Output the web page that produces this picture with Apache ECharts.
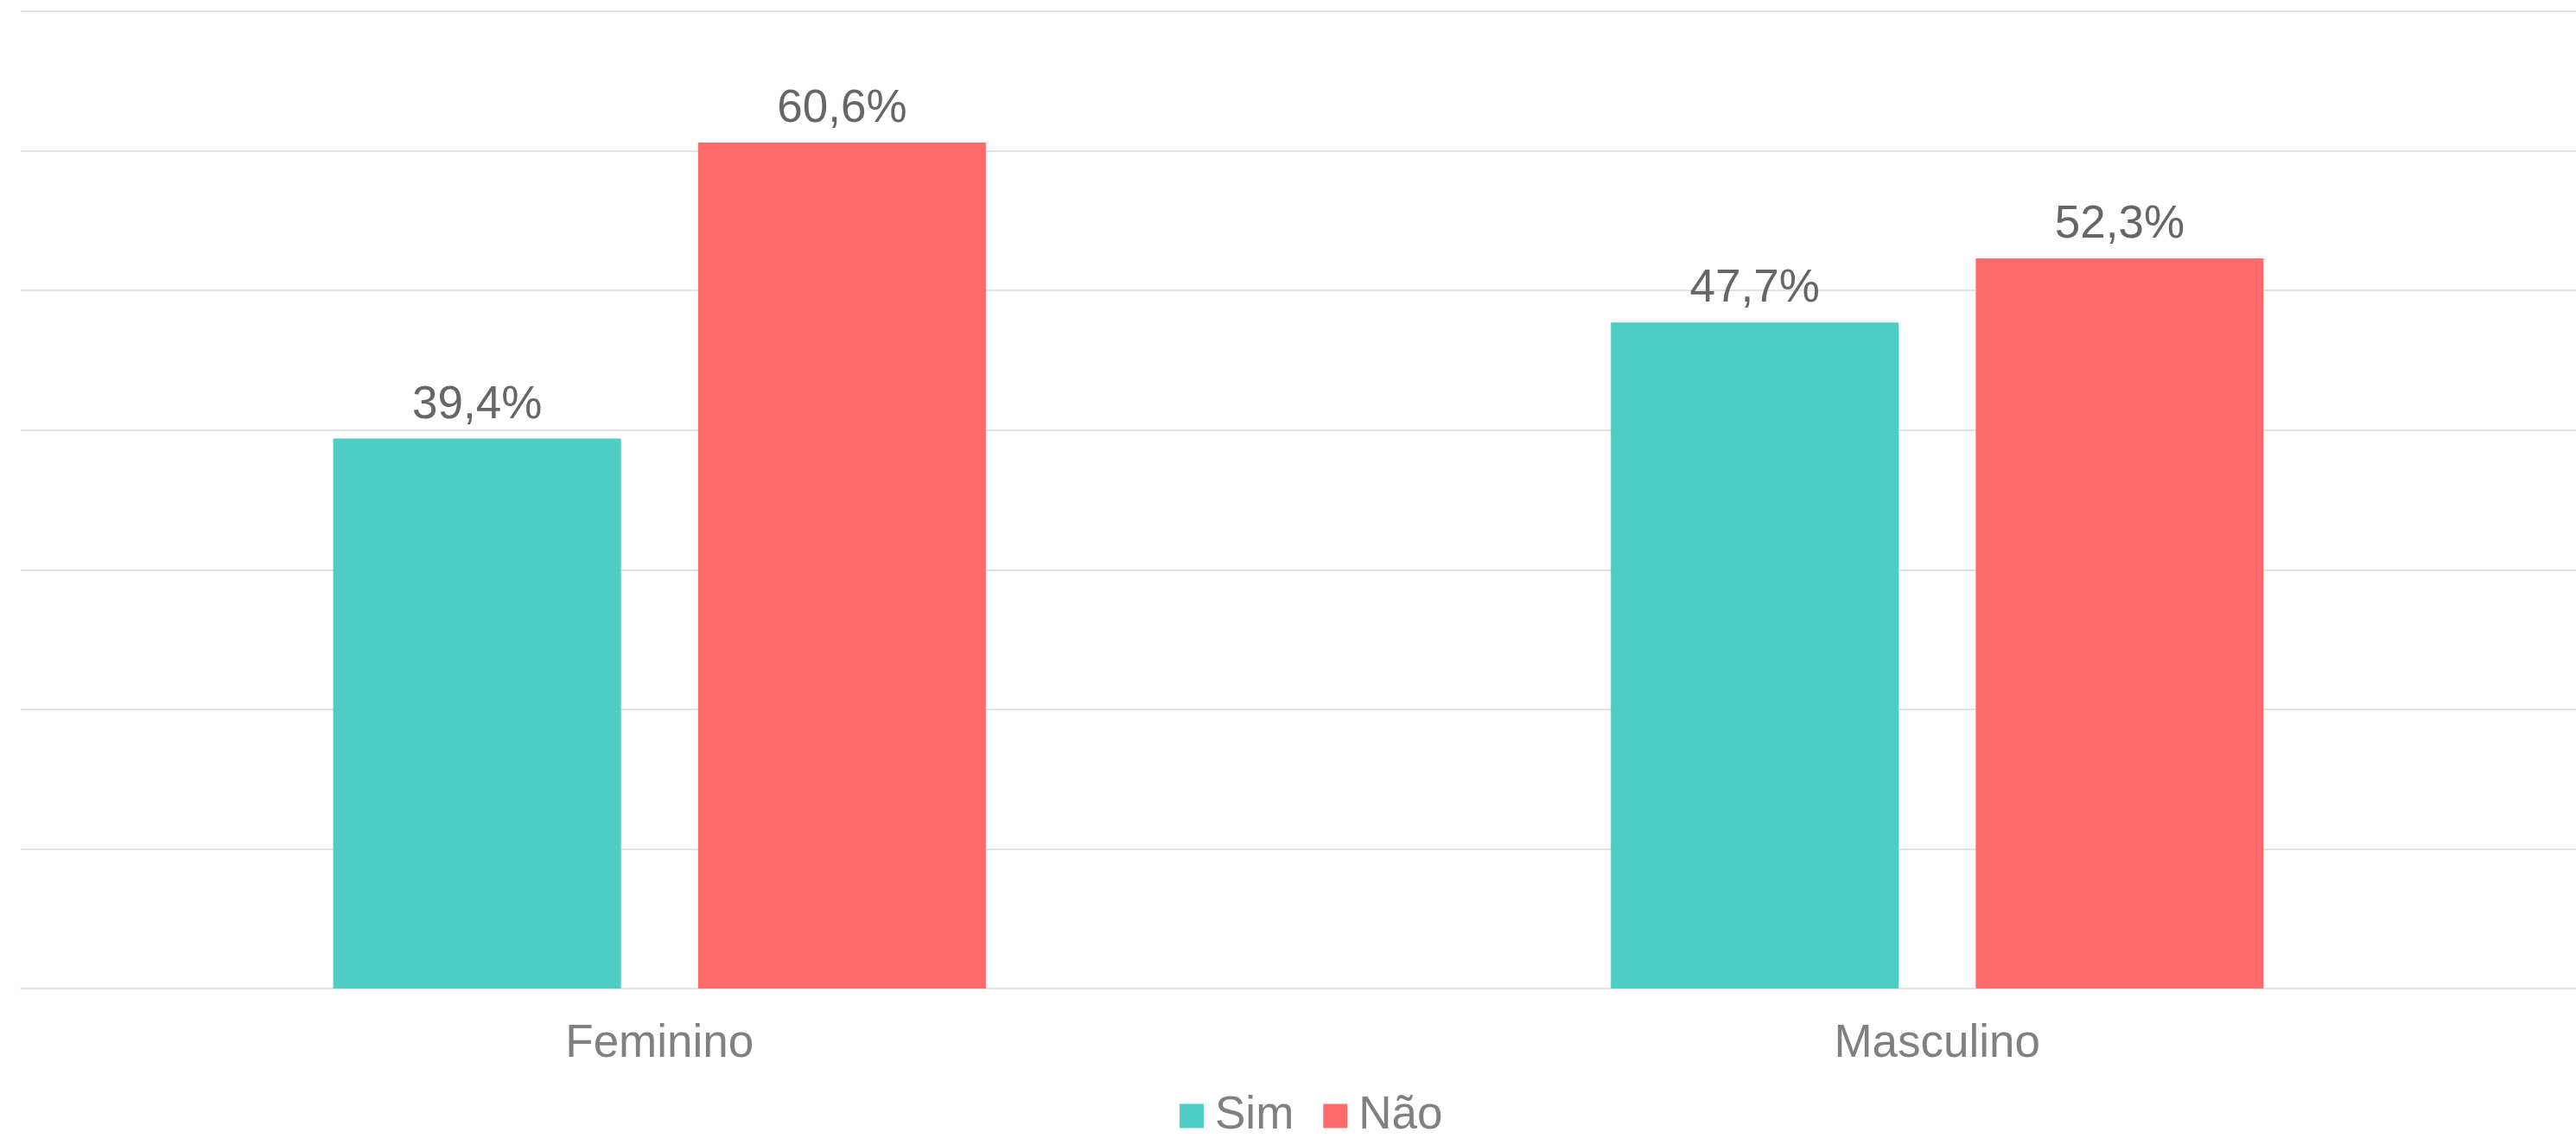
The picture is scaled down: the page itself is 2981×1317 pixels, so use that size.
<!DOCTYPE html>
<html>
<head>
<meta charset="utf-8">
<script src="https://cdn.jsdelivr.net/npm/echarts@6/dist/echarts.min.js"></script>
<style>
html,body{margin:0;padding:0;background:#fff;}
#chart{width:2981px;height:1317px;}
</style>
</head>
<body>
<div id="chart"></div>
<script>
const categories = ['Feminino', 'Masculino'];
const simValues = [39.4, 47.7];
const naoValues = [60.6, 52.3];
const seriesNames = ['Sim', 'Não'];

const fmt = v => v.toFixed(1).replace('.', ',') + '%';
const FONT = '"Liberation Sans", Arial, sans-serif';

const chart = echarts.init(document.getElementById('chart'));
const labelCfg = {
  show: true,
  position: 'top',
  distance: 12,
  fontSize: 53,
  fontFamily: FONT,
  color: '#666666',
  formatter: p => fmt(p.value)
};
chart.setOption({
  animation: false,
  backgroundColor: '#ffffff',
  grid: { left: 24, width: 2966, top: 13, bottom: 173, containLabel: false },
  legend: {
    data: seriesNames,
    top: 1260,
    left: 1360,
    itemWidth: 28,
    itemHeight: 28,
    itemGap: 34,
    icon: 'rect',
    textStyle: { fontSize: 53, fontFamily: FONT, color: '#808080', padding: [0, 0, 0, 8] }
  },
  xAxis: {
    type: 'category',
    data: categories,
    axisLine: { show: true, lineStyle: { color: '#e2e2e2', width: 2 } },
    axisTick: { show: false },
    axisLabel: { fontSize: 53, fontFamily: FONT, color: '#808080', margin: 38 }
  },
  yAxis: {
    type: 'value',
    min: 0,
    max: 70,
    interval: 10,
    axisLabel: { show: false },
    axisLine: { show: false },
    axisTick: { show: false },
    splitLine: { lineStyle: { color: '#e2e2e2', width: 2 } }
  },
  series: [
    {
      name: seriesNames[0],
      type: 'bar',
      data: simValues,
      barWidth: 333,
      barGap: '26.8%',
      itemStyle: { color: '#4ECDC4' },
      label: labelCfg
    },
    {
      name: seriesNames[1],
      type: 'bar',
      data: naoValues,
      barWidth: 333,
      barGap: '26.8%',
      itemStyle: { color: '#FF6B6B' },
      label: labelCfg
    }
  ]
});
</script>
</body>
</html>
